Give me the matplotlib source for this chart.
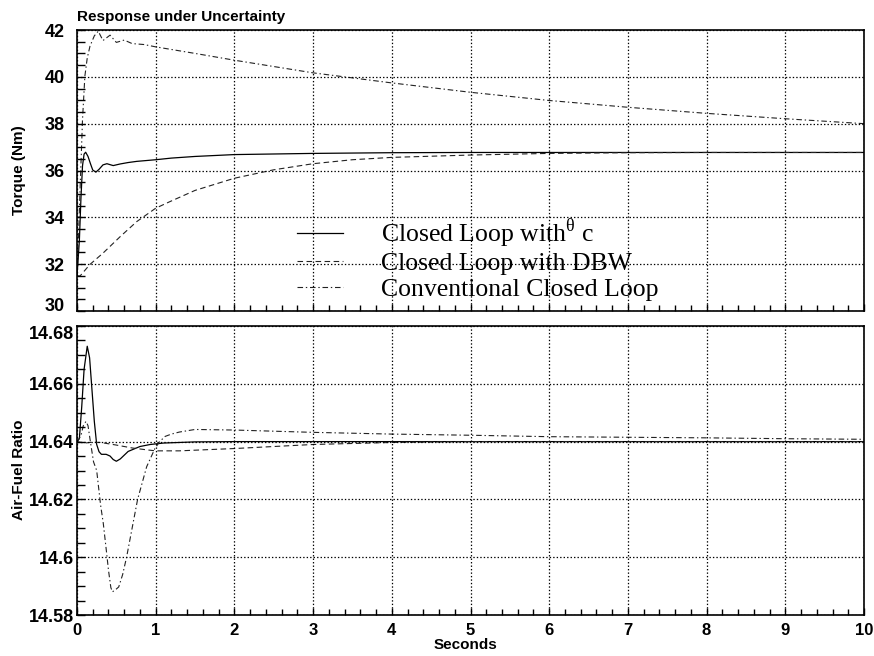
import matplotlib
matplotlib.use("Agg")
import matplotlib.pyplot as plt
from matplotlib.ticker import MultipleLocator

plt.rcParams['lines.scale_dashes'] = False
plt.rcParams['font.family'] = ['Liberation Sans', 'DejaVu Sans']

# ---------------- data ----------------
title = "Response under Uncertainty"
xlabel = "Seconds"
ylabel_top = "Torque (Nm)"
ylabel_bot = "Air-Fuel Ratio"
legend_labels = [r"Closed Loop with$^{\mathregular{θ}}$ c", "Closed Loop with DBW", "Conventional Closed Loop"]

# Top panel: torque
t_sol_top = [0, 0.03, 0.05, 0.07, 0.09, 0.11, 0.14, 0.17, 0.20, 0.24, 0.28, 0.33, 0.38, 0.46,
             0.55, 0.65, 0.76, 1.0, 1.2, 1.5, 2.0, 3.0, 4.0, 5.0, 6.0, 8.0, 10.0]
y_sol_top = [31.5, 33.0, 34.8, 36.2, 36.7, 36.78, 36.6, 36.3, 36.02, 35.93, 36.05, 36.24, 36.29, 36.21,
             36.28, 36.34, 36.39, 36.46, 36.53, 36.6, 36.68, 36.73, 36.76, 36.77, 36.77, 36.77, 36.77]

t_dbw_top = [0, 0.04, 0.165, 0.33, 0.55, 0.76, 1.0, 1.18, 1.5, 2.0, 2.5, 3.0, 3.5, 4.0, 5.0, 6.0, 7.0, 8.0, 10.0]
y_dbw_top = [31.5, 31.5, 31.99, 32.47, 33.18, 33.82, 34.39, 34.67, 35.15, 35.67, 36.03, 36.29, 36.46,
             36.56, 36.66, 36.73, 36.76, 36.77, 36.77]

t_cnv_top = [0, 0.02, 0.04, 0.07, 0.10, 0.13, 0.165, 0.22, 0.27, 0.33, 0.42, 0.50, 0.60, 0.70, 0.85,
             1.0, 1.5, 2.0, 3.0, 4.0, 5.0, 6.0, 7.0, 8.0, 9.0, 10.0]
y_cnv_top = [31.5, 33.2, 35.3, 38.17, 40.03, 40.8, 41.31, 41.75, 41.95, 41.55, 41.78, 41.47, 41.57, 41.42,
             41.38, 41.28, 41.0, 40.71, 40.17, 39.74, 39.34, 38.99, 38.7, 38.44, 38.21, 38.0]

# Bottom panel: air-fuel ratio
t_sol_bot = [0, 0.03, 0.06, 0.09, 0.13, 0.16, 0.19, 0.22, 0.25, 0.28, 0.31, 0.37, 0.42, 0.46, 0.50,
             0.55, 0.65, 0.8, 0.93, 1.1, 1.5, 2.0, 10.0]
y_sol_bot = [14.64, 14.641, 14.652, 14.665, 14.673, 14.669, 14.658, 14.647, 14.639, 14.6365, 14.6356,
             14.6356, 14.635, 14.6338, 14.6332, 14.634, 14.6366, 14.6383, 14.639, 14.6395, 14.6399,
             14.64, 14.64]

t_dbw_bot = [0, 0.1, 0.2, 0.3, 0.5, 0.7, 0.9, 1.0, 1.3, 2.0, 3.0, 4.0, 5.0, 10.0]
y_dbw_bot = [14.64, 14.6395, 14.6398, 14.6397, 14.6388, 14.6378, 14.6371, 14.6368, 14.6368, 14.6376,
             14.639, 14.6397, 14.64, 14.64]

t_cnv_bot = [0, 0.05, 0.08, 0.114, 0.14, 0.17, 0.21, 0.25, 0.30, 0.334, 0.37, 0.40, 0.43, 0.45, 0.50,
             0.53, 0.58, 0.63, 0.70, 0.77, 0.885, 0.99, 1.05, 1.12, 1.2, 1.3, 1.5, 2.0, 3.0, 4.0, 5.0,
             6.0, 7.0, 8.0, 9.0, 10.0]
y_cnv_bot = [14.64, 14.642, 14.6455, 14.647, 14.6455, 14.64, 14.633, 14.63, 14.618, 14.6117, 14.603,
             14.5955, 14.5895, 14.588, 14.589, 14.5897, 14.594, 14.6, 14.61, 14.62, 14.6313, 14.6376,
             14.64, 14.6418, 14.6426, 14.6433, 14.6442, 14.644, 14.6432, 14.6426, 14.6422, 14.6417,
             14.6415, 14.6413, 14.641, 14.6408]

xticks = [0, 1, 2, 3, 4, 5, 6, 7, 8, 9, 10]
yticks_top = [30, 32, 34, 36, 38, 40, 42]
yticks_bot = [14.58, 14.6, 14.62, 14.64, 14.66, 14.68]
yticklabels_bot = ["14.58", "14.6", "14.62", "14.64", "14.66", "14.68"]

# ---------------- figure ----------------
fig = plt.figure(figsize=(8.74, 6.56), dpi=100)
ax1 = fig.add_axes([77/874, 1-311/656, 787/874, 281/656])
ax2 = fig.add_axes([77/874, 1-615/656, 787/874, 289/656])

sol_kw = dict(color='black', lw=0.9, linestyle='-')
dbw_kw = dict(color='#222222', lw=0.8, linestyle=(0, (4, 2.5)))
cnv_kw = dict(color='#222222', lw=0.8, linestyle=(0, (4, 2, 1, 2)))

l1, = ax1.plot(t_sol_top, y_sol_top, **sol_kw)
l2, = ax1.plot(t_dbw_top, y_dbw_top, **dbw_kw)
l3, = ax1.plot(t_cnv_top, y_cnv_top, **cnv_kw)

ax2.plot(t_sol_bot, y_sol_bot, **sol_kw)
ax2.plot(t_dbw_bot, y_dbw_bot, **dbw_kw)
ax2.plot(t_cnv_bot, y_cnv_bot, **cnv_kw)

grid_kw = dict(color='black', lw=0.9, linestyle=(0, (1, 1.5)))
for ax in (ax1, ax2):
    ax.set_xlim(0, 10)
    ax.set_xticks(xticks)
    ax.xaxis.set_minor_locator(MultipleLocator(0.2))
    ax.grid(True, which='major', **grid_kw)
    ax.tick_params(which='both', direction='in', top=False, right=False, width=1)
    ax.tick_params(axis='x', which='major', length=5)
    ax.tick_params(axis='x', which='minor', length=4)
    ax.tick_params(axis='y', which='both', length=5.5)
    for s in ax.spines.values():
        s.set_linewidth(1.2)
    ax.set_axisbelow(False)

ax1.set_ylim(30, 42)
ax1.set_yticks(yticks_top)
ax1.yaxis.set_minor_locator(MultipleLocator(0.5))
ax1.tick_params(axis='x', labelbottom=False)
ax1.tick_params(axis='y', labelsize=13, pad=9)
labs1 = ax1.get_yticklabels()
for lab in labs1:
    lab.set_fontweight('bold')
labs1[0].set_verticalalignment('baseline')

ax2.set_ylim(14.58, 14.68)
ax2.set_yticks(yticks_bot)
ax2.set_yticklabels(yticklabels_bot)
ax2.yaxis.set_minor_locator(MultipleLocator(0.005))
ax2.tick_params(axis='y', labelsize=13, pad=2)
ax2.tick_params(axis='x', labelsize=12, pad=6)
labs2 = ax2.get_yticklabels()
for lab in labs2 + ax2.get_xticklabels():
    lab.set_fontweight('bold')
labs2[-1].set_verticalalignment('top')

fig.text(77/874, 1-21/656, title, fontsize=11, fontweight='bold', ha='left', va='baseline')
fig.text(19/874, 1-170/656, ylabel_top, fontsize=11, fontweight='bold', rotation=90, ha='center', va='center')
fig.text(19/874, 1-470/656, ylabel_bot, fontsize=11, fontweight='bold', rotation=90, ha='center', va='center')
fig.text(465/874, 1-645/656, xlabel, fontsize=11, fontweight='bold', ha='center', va='center')

leg = ax1.legend([l1, l2, l3], legend_labels, loc='upper left',
                 bbox_to_anchor=((297-77)/787, (311-216)/281),
                 frameon=False, borderpad=0, borderaxespad=0,
                 handlelength=1.8, handletextpad=1.45, labelspacing=0.12,
                 prop={'family': 'Liberation Serif', 'size': 18.5})

fig.savefig("out.png", dpi=100)
